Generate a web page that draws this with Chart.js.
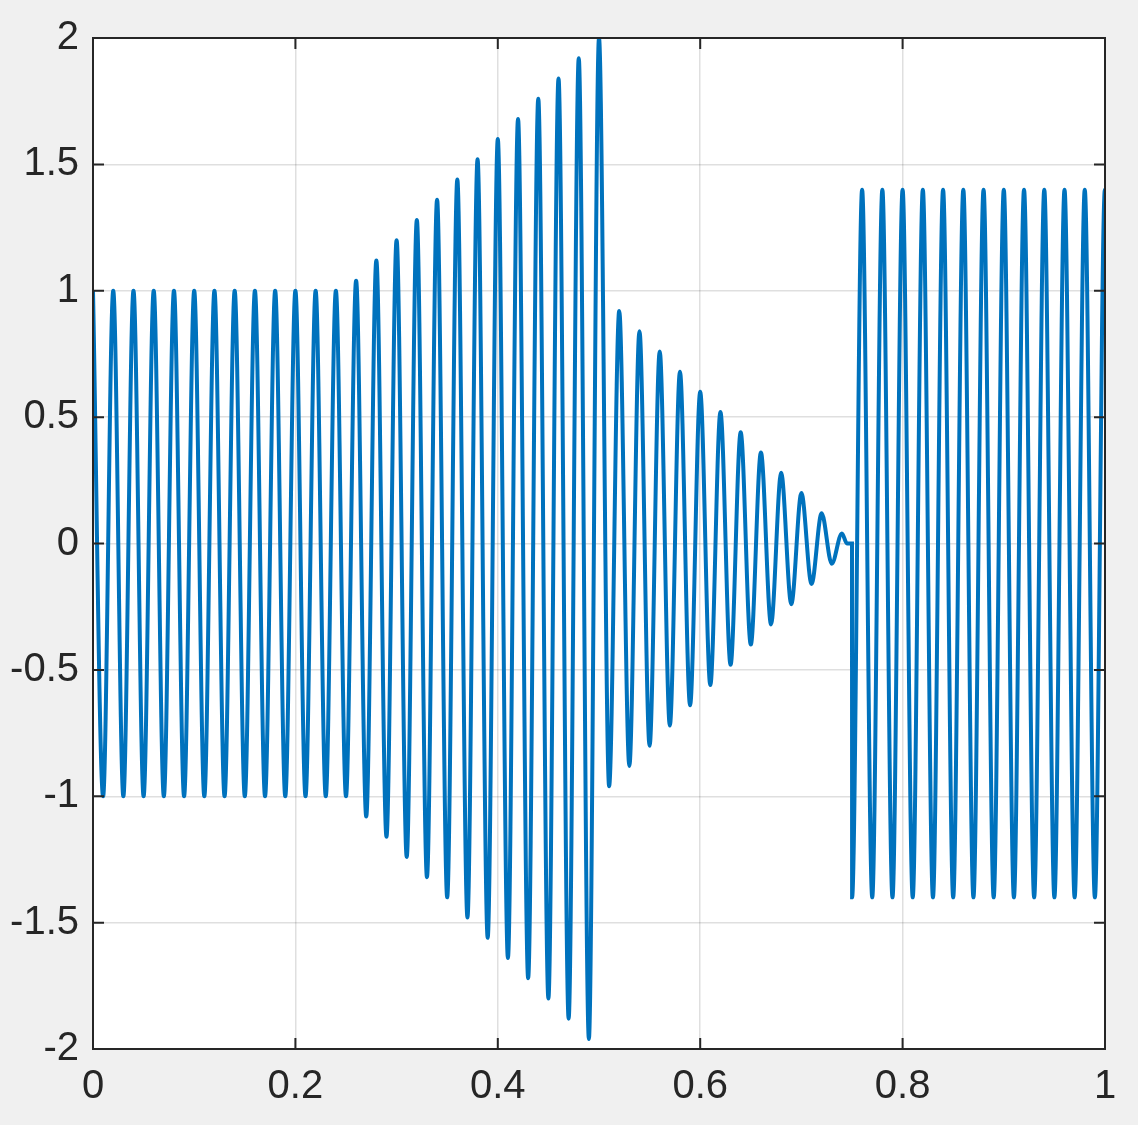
<!DOCTYPE html>
<html>
<head>
<meta charset="utf-8">
<title>Signal</title>
<script src="https://cdn.jsdelivr.net/npm/chart.js@4.4.1/dist/chart.umd.min.js"></script>
<style>
    html, body { margin: 0; padding: 0; background: #f0f0f0; }
    #plot { display: block; }
</style>
</head>
<body>
<canvas id="plot" width="1138" height="1125"></canvas>
<script>
// time of every peak / trough (s)
const tValues = [
    0, 0.01, 0.02, 0.03, 0.04, 0.05, 0.06, 0.07, 0.08, 0.09,
    0.10, 0.11, 0.12, 0.13, 0.14, 0.15, 0.16, 0.17, 0.18, 0.19,
    0.20, 0.21, 0.22, 0.23, 0.24, 0.25,
    0.26, 0.27, 0.28, 0.29, 0.30, 0.31, 0.32, 0.33, 0.34, 0.35,
    0.36, 0.37, 0.38, 0.39, 0.40, 0.41, 0.42, 0.43, 0.44, 0.45,
    0.46, 0.47, 0.48, 0.49, 0.50,
    0.51, 0.52, 0.53, 0.54, 0.55, 0.56, 0.57, 0.58, 0.59, 0.60,
    0.61, 0.62, 0.63, 0.64, 0.65, 0.66, 0.67, 0.68, 0.69, 0.70,
    0.71, 0.72, 0.73, 0.74, 0.745, 0.75,
    0.7501, 0.76, 0.77, 0.78, 0.79, 0.80, 0.81, 0.82, 0.83, 0.84,
    0.85, 0.86, 0.87, 0.88, 0.89, 0.90, 0.91, 0.92, 0.93, 0.94,
    0.95, 0.96, 0.97, 0.98, 0.99, 0.9999, 1.0
];

// signal value at each of those times
const yValues = [
    1, -1, 1, -1, 1, -1, 1, -1, 1, -1,
    1, -1, 1, -1, 1, -1, 1, -1, 1, -1,
    1, -1, 1, -1, 1, -1,
    1.04, -1.08, 1.12, -1.16, 1.2, -1.24, 1.28, -1.32, 1.36, -1.4,
    1.44, -1.48, 1.52, -1.56, 1.6, -1.64, 1.68, -1.72, 1.76, -1.8,
    1.84, -1.88, 1.92, -1.96, 2.0,
    -0.96, 0.92, -0.88, 0.84, -0.8, 0.76, -0.72, 0.68, -0.64, 0.6,
    -0.56, 0.52, -0.48, 0.44, -0.4, 0.36, -0.32, 0.28, -0.24, 0.2,
    -0.16, 0.12, -0.08, 0.04, 0, 0,
    -1.4, 1.4, -1.4, 1.4, -1.4, 1.4, -1.4, 1.4, -1.4, 1.4,
    -1.4, 1.4, -1.4, 1.4, -1.4, 1.4, -1.4, 1.4, -1.4, 1.4,
    -1.4, 1.4, -1.4, 1.4, -1.4, 1.4, 1.0
];

const xTicks = [0, 0.2, 0.4, 0.6, 0.8, 1];
const yTicks = [-2, -1.5, -1, -0.5, 0, 0.5, 1, 1.5, 2];

const axisColor = '#262626';
const tickFont = { family: "'Liberation Sans', Arial, Helvetica, sans-serif", size: 40 };

// white axes background, full box and inward tick marks like MATLAB
const matlabAxes = {
    id: 'matlabAxes',
    beforeDraw(chart) {
        const { ctx, chartArea: a } = chart;
        ctx.save();
        ctx.fillStyle = '#ffffff';
        ctx.fillRect(a.left, a.top, a.right - a.left, a.bottom - a.top);
        ctx.restore();
    },
    afterDraw(chart) {
        const { ctx, chartArea: a, scales } = chart;
        const len = 11;
        ctx.save();
        ctx.strokeStyle = axisColor;
        ctx.lineWidth = 2;
        ctx.beginPath();
        xTicks.forEach(v => {
            const px = scales.x.getPixelForValue(v);
            ctx.moveTo(px, a.bottom); ctx.lineTo(px, a.bottom - len);
            ctx.moveTo(px, a.top); ctx.lineTo(px, a.top + len);
        });
        yTicks.forEach(v => {
            const py = scales.y.getPixelForValue(v);
            ctx.moveTo(a.left, py); ctx.lineTo(a.left + len, py);
            ctx.moveTo(a.right, py); ctx.lineTo(a.right - len, py);
        });
        ctx.stroke();
        ctx.strokeRect(a.left, a.top, a.right - a.left, a.bottom - a.top);
        ctx.restore();
    }
};

const fmt = v => String(Math.round(v * 10) / 10);

new Chart(document.getElementById('plot'), {
    type: 'line',
    data: {
        datasets: [{
            data: tValues.map((t, i) => ({ x: t, y: yValues[i] })),
            borderColor: '#0072BD',
            borderWidth: 4,
            pointRadius: 0,
            cubicInterpolationMode: 'monotone',
            fill: false
        }]
    },
    options: {
        responsive: false,
        animation: false,
        events: [],
        layout: { padding: { top: 36, right: 33, left: 0, bottom: 0 } },
        plugins: { legend: { display: false }, tooltip: { enabled: false } },
        scales: {
            x: {
                type: 'linear',
                min: 0,
                max: 1,
                afterFit: s => { s.height = 76; },
                afterBuildTicks: s => { s.ticks = xTicks.map(v => ({ value: v })); },
                grid: { color: 'rgba(38,38,38,0.15)', lineWidth: 1.5, drawTicks: false },
                border: { display: false },
                ticks: { color: axisColor, font: tickFont, padding: 14, maxRotation: 0, callback: fmt }
            },
            y: {
                type: 'linear',
                min: -2,
                max: 2,
                afterFit: s => { s.width = 93; },
                afterBuildTicks: s => { s.ticks = yTicks.map(v => ({ value: v })); },
                grid: { color: 'rgba(38,38,38,0.15)', lineWidth: 1.5, drawTicks: false },
                border: { display: false },
                ticks: { color: axisColor, font: tickFont, padding: 14, callback: fmt }
            }
        }
    },
    plugins: [matlabAxes]
});
</script>
</body>
</html>
